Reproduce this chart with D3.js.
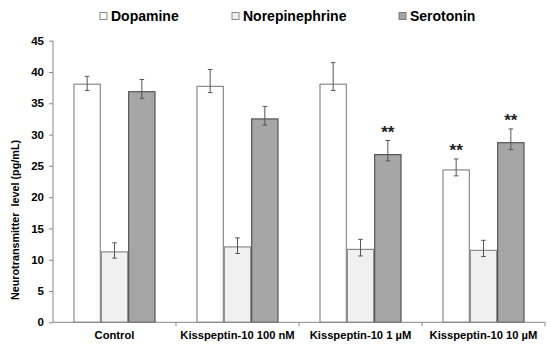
<!DOCTYPE html>
<html><head><meta charset="utf-8">
<script src="https://cdn.jsdelivr.net/npm/d3@7"></script>
<style>
html,body{margin:0;padding:0;background:#fff;}
svg text{font-family:"Liberation Sans",Arial,sans-serif;font-weight:bold;fill:#000;}
</style></head>
<body>
<svg id="chart" width="550" height="350"></svg>
<script>
const categories = ["Control", "Kisspeptin-10 100 nM", "Kisspeptin-10 1 \u00b5M", "Kisspeptin-10 10 \u00b5M"];
const seriesNames = ["Dopamine", "Norepinephrine", "Serotonin"];
const dopamine = [38.05, 37.7, 38.05, 24.35];
const norepinephrine = [11.25, 12.05, 11.65, 11.5];
const serotonin = [36.85, 32.5, 26.8, 28.7];
const dopamineErrUp = [1.25, 2.7, 3.45, 1.75];
const dopamineErrDown = [1.0, 1.0, 1.0, 0.95];
const norepinephrineErrUp = [1.45, 1.45, 1.6, 1.6];
const norepinephrineErrDown = [1.0, 1.05, 1.05, 1.0];
const serotoninErrUp = [1.95, 2.0, 2.25, 2.2];
const serotoninErrDown = [1.05, 1.0, 1.0, 1.1];
const significance = [["", "", ""], ["", "", ""], ["", "", "**"], ["**", "", "**"]];
const yTicks = [0, 5, 10, 15, 20, 25, 30, 35, 40, 45];

const seriesValues = [dopamine, norepinephrine, serotonin];
const seriesUp = [dopamineErrUp, norepinephrineErrUp, serotoninErrUp];
const seriesDown = [dopamineErrDown, norepinephrineErrDown, serotoninErrDown];
const fills = ["#ffffff", "#f0f0f0", "#a6a6a6"];
const strokes = ["#8a8a8a", "#8a8a8a", "#555555"];

const svg = d3.select("#chart");
const y = d3.scaleLinear().domain([0, 45]).range([322.3, 40.7]);
const x0 = d3.scaleBand().domain(categories).range([53, 545]).paddingInner(0).paddingOuter(0);
const x1 = d3.scaleBand().domain(seriesNames).range([0, x0.bandwidth()]).paddingInner(0).paddingOuter(0.75);

const data = [];
categories.forEach((c, ci) => {
  seriesNames.forEach((s, si) => {
    data.push({c, s, si, v: seriesValues[si][ci], up: seriesUp[si][ci], dn: seriesDown[si][ci], sig: significance[ci][si]});
  });
});

// bars
svg.append("g").selectAll("rect").data(data).join("rect")
  .attr("x", d => x0(d.c) + x1(d.s) + 0.5)
  .attr("y", d => y(d.v))
  .attr("width", x1.bandwidth() - 1)
  .attr("height", d => y(0) - y(d.v))
  .attr("fill", d => fills[d.si])
  .attr("stroke", d => strokes[d.si])
  .attr("stroke-width", 1.2);

// error bars
const eb = svg.append("g").attr("stroke", "#555").attr("stroke-width", 1);
data.forEach(d => {
  const cx = x0(d.c) + x1(d.s) + x1.bandwidth() / 2;
  const yt = y(d.v + d.up), yb = y(d.v - d.dn);
  eb.append("line").attr("x1", cx).attr("x2", cx).attr("y1", yt).attr("y2", yb);
  eb.append("line").attr("x1", cx - 2.3).attr("x2", cx + 2.3).attr("y1", yt).attr("y2", yt);
  eb.append("line").attr("x1", cx - 2.3).attr("x2", cx + 2.3).attr("y1", yb).attr("y2", yb);
});

// significance stars
svg.append("g").selectAll("text").data(data.filter(d => d.sig)).join("text")
  .attr("x", d => x0(d.c) + x1(d.s) + x1.bandwidth() / 2)
  .attr("y", d => y(d.v + d.up) - 3)
  .attr("text-anchor", "middle")
  .style("font-size", "17px")
  .style("fill", "#222")
  .text(d => d.sig);

// y axis
const yAxis = svg.append("g").attr("transform", "translate(53,0)")
  .call(d3.axisLeft(y).tickValues(yTicks).tickSize(4).tickPadding(5));
yAxis.select(".domain").attr("stroke", "#888").attr("d", `M0,${y(45)}V${y(0)}`);
yAxis.selectAll(".tick line").attr("stroke", "#888");
yAxis.selectAll(".tick text").style("font-size", "11.5px").style("font-family", '"Liberation Sans",Arial,sans-serif').style("font-weight", "bold");

// x axis
const xg = svg.append("g");
xg.append("line").attr("x1", 53).attr("x2", 545).attr("y1", y(0)).attr("y2", y(0)).attr("stroke", "#888");
const boundaries = categories.map(c => x0(c) + x0.bandwidth());
xg.selectAll("line.t").data(boundaries).join("line").attr("class", "t")
  .attr("x1", d => d).attr("x2", d => d).attr("y1", y(0)).attr("y2", y(0) + 4).attr("stroke", "#888");
xg.selectAll("text").data(categories).join("text")
  .attr("x", c => x0(c) + x0.bandwidth() / 2)
  .attr("y", 339)
  .attr("text-anchor", "middle")
  .style("font-size", "11.2px")
  .text(c => c);

// y title
svg.append("text")
  .attr("transform", "translate(19,220) rotate(-90)")
  .attr("text-anchor", "middle")
  .style("font-size", "10.8px")
  .style("white-space", "pre")
  .text("Neurotransmitter  level (pg/mL)");

// legend
const legendX = [100, 232, 399];
const lg = svg.append("g");
seriesNames.forEach((s, i) => {
  lg.append("rect").attr("x", legendX[i]).attr("y", 12.5).attr("width", 7).attr("height", 7)
    .attr("fill", fills[i]).attr("stroke", i === 2 ? "#777" : "#888").attr("stroke-width", 1);
  lg.append("text").attr("x", legendX[i] + 11).attr("y", 21).style("font-size", "14px").text(s);
});
</script>
</body></html>
